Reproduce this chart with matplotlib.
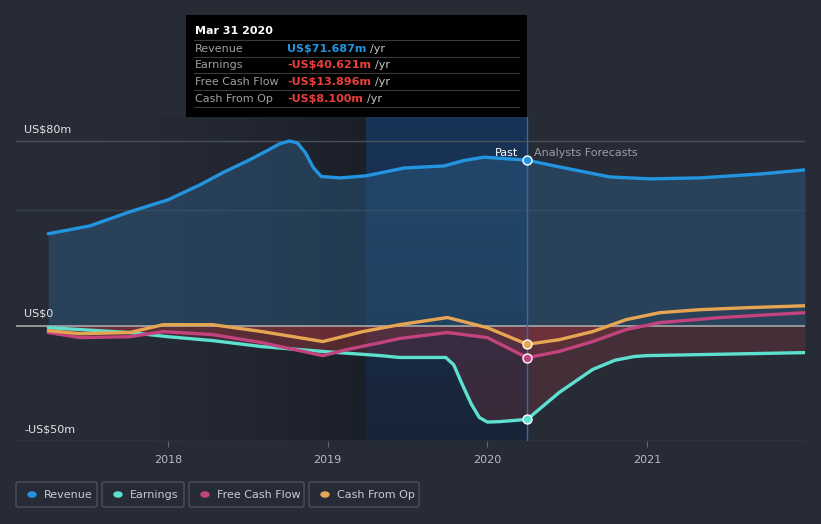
import numpy as np
import matplotlib.pyplot as plt
from matplotlib.colors import LinearSegmentedColormap
from matplotlib.patches import Rectangle, FancyBboxPatch

# data (US$ m)
rev_t = [2017.25, 2017.51, 2017.76, 2018.0, 2018.2, 2018.35, 2018.51, 2018.62, 2018.7,
         2018.76, 2018.81, 2018.86, 2018.91, 2018.96, 2019.08, 2019.24, 2019.48, 2019.73,
         2019.85, 2019.98, 2020.25, 2020.45, 2020.77, 2021.02, 2021.33, 2021.71, 2021.99]
rev_v = [39.8, 43.2, 49.3, 54.5, 61.0, 66.5, 71.8, 75.8, 78.8,
         80.0, 79.2, 75.0, 68.5, 64.6, 64.0, 64.9, 68.3, 69.2,
         71.5, 73.0, 71.687, 68.8, 64.4, 63.6, 64.0, 65.7, 67.5]

earn_t = [2017.25, 2017.76, 2018.0, 2018.28, 2018.59, 2018.97, 2019.33, 2019.45, 2019.74,
          2019.79, 2019.84, 2019.9, 2019.95, 2020.0, 2020.08, 2020.25, 2020.45, 2020.66,
          2020.8, 2020.92, 2021.0, 2021.46, 2021.99]
earn_v = [-0.9, -3.0, -4.8, -6.5, -9.1, -11.2, -13.0, -13.8, -13.8,
          -17.0, -25.0, -34.0, -39.8, -41.8, -41.6, -40.621, -29.0, -19.0,
          -15.0, -13.4, -13.0, -12.4, -11.7]

fcf_t = [2017.25, 2017.45, 2017.76, 2017.97, 2018.28, 2018.59, 2018.97, 2019.12, 2019.33,
         2019.45, 2019.75, 2020.0, 2020.25, 2020.45, 2020.66, 2020.87, 2021.08, 2021.46, 2021.99]
fcf_v = [-3.0, -5.2, -4.8, -2.6, -3.9, -7.4, -13.0, -10.4, -7.4,
         -5.6, -3.0, -5.2, -13.896, -11.2, -6.9, -1.7, 1.3, 3.5, 5.6]

cfo_t = [2017.25, 2017.45, 2017.76, 2017.97, 2018.28, 2018.59, 2018.97, 2019.22, 2019.45,
         2019.75, 2020.0, 2020.25, 2020.45, 2020.66, 2020.87, 2021.08, 2021.33, 2021.64, 2021.99]
cfo_v = [-2.2, -3.5, -3.0, 0.4, 0.4, -2.6, -6.9, -2.6, 0.4,
         3.5, -0.9, -8.1, -6.1, -2.6, 2.6, 5.6, 6.9, 7.8, 8.6]

names = ["Revenue", "Earnings", "Free Cash Flow", "Cash From Op"]
colors = ["#2394df", "#5de0cf", "#c2437e", "#e6a553"]
tip_vals = ["US$71.687m", "-US$40.621m", "-US$13.896m", "-US$8.100m"]
year_ticks = [2018, 2019, 2020, 2021]
now = 2020.25

bg = "#262b36"
fig = plt.figure(figsize=(8.21, 5.24), dpi=100, facecolor=bg)
W, H = 821, 524
ax = fig.add_axes([16 / W, (H - 441) / H, (805 - 16) / W, (441 - 117) / H])
ax.set_facecolor(bg)
ax.set_xlim(2017.048, 2021.99)
ax.set_ylim(-50, 90.4)

# past background: darkening gradient, then highlighted last year
grad = np.linspace(0, 1, 200).reshape(1, -1) ** 1.5
ax.imshow(grad, extent=[2017.6, 2019.24, -50, 90.4], aspect="auto",
          cmap=LinearSegmentedColormap.from_list("g", [bg, "#1a1f28"]), zorder=0)
vgrad = np.linspace(0, 1, 100).reshape(-1, 1)
ax.imshow(vgrad, extent=[2019.24, now, -50, 90.4], aspect="auto", origin="lower",
          cmap=LinearSegmentedColormap.from_list("b", ["#182538", "#183458"]), zorder=0.5)

# grid
for g, c in [(80, "#4a505b"), (50, "#3a404b"), (-50, "#4a505b")]:
    ax.axhline(g, color=c, lw=1, zorder=1)

# fills
ax.fill_between(rev_t, 0, rev_v, color="#2e5f86", alpha=0.45, lw=0, zorder=1.5)
for t, v in [(earn_t, earn_v), (fcf_t, fcf_v), (cfo_t, cfo_v)]:
    v = np.array(v)
    ax.fill_between(t, 0, np.minimum(v, 0), color="#b03a3e", alpha=0.22, lw=0, zorder=1.6)

ax.axhline(0, color="#a8a8a8", lw=1.2, zorder=1.8)

series = [(rev_t, rev_v), (earn_t, earn_v), (fcf_t, fcf_v), (cfo_t, cfo_v)]
for (t, v), c in zip(series, colors):
    ax.plot(t, v, color=c, lw=2.4, solid_joinstyle="round", solid_capstyle="round", zorder=3)
    i = t.index(now)
    ax.scatter([now], [v[i]], s=42, color=c, edgecolor="white", linewidth=1.0, zorder=4)

ax.axvline(now, color="#2a6cb8", lw=1, zorder=2)

for s in ax.spines.values():
    s.set_visible(False)
ax.set_yticks([])
ax.set_xticks(year_ticks)
ax.set_xticklabels([str(y) for y in year_ticks])
ax.tick_params(axis="x", colors="#60656e", labelcolor="#b8bcc2", labelsize=8, length=4, pad=6)

# y labels
fig.text(24 / W, 1 - 129 / H, "US$80m", color="#e6e6e6", fontsize=8, va="center")
fig.text(24 / W, 1 - 313 / H, "US$0", color="#e6e6e6", fontsize=8, va="center")
fig.text(24 / W, 1 - 429 / H, "-US$50m", color="#e6e6e6", fontsize=8, va="center")

fig.text(518 / W, 1 - 153 / H, "Past", color="#ffffff", fontsize=8, ha="right", va="center")
fig.text(534 / W, 1 - 153 / H, "Analysts Forecasts", color="#9a9ea6", fontsize=8, va="center")

# tooltip
fig.patches.append(Rectangle((186 / W, 1 - 117 / H), (527 - 186) / W, 102 / H,
                             transform=fig.transFigure, facecolor="#000000", edgecolor="none", zorder=5))
fig.text(195 / W, 1 - 31 / H, "Mar 31 2020", color="white", fontsize=8, fontweight="bold",
         va="center", zorder=6)
for k in range(4):
    yl = 40 + k * 16.7
    fig.lines.append(plt.Line2D([194 / W, 519 / W], [1 - yl / H, 1 - yl / H],
                                transform=fig.transFigure, color="#3a3a3a", lw=0.8, zorder=6))
    yt = 1 - (yl + 8.5) / H
    fig.text(195 / W, yt, names[k], color="#a0a0a0", fontsize=8, va="center", zorder=6)
    vc = "#2394df" if k == 0 else "#e8403c"
    tx = fig.text(287 / W, yt, tip_vals[k], color=vc, fontsize=8, fontweight="bold",
                  va="center", zorder=6)
    fig.canvas.draw()
    bb = tx.get_window_extent()
    fig.text((bb.x1 + 4) / W, yt, "/yr", color="#c8c8c8", fontsize=8, va="center", zorder=6)
yl = 40 + 4 * 16.7
fig.lines.append(plt.Line2D([194 / W, 519 / W], [1 - yl / H, 1 - yl / H],
                            transform=fig.transFigure, color="#3a3a3a", lw=0.8, zorder=6))

# legend boxes
boxes = [(16, 97), (102, 184), (189, 304), (309, 419)]
for (bx0, bx1), nm, c in zip(boxes, names, colors):
    fig.patches.append(FancyBboxPatch((bx0 / W, 1 - 507 / H), (bx1 - bx0) / W, 25 / H,
                                      boxstyle="round,pad=0,rounding_size=0.003",
                                      transform=fig.transFigure, facecolor="none",
                                      edgecolor="#4a505b", lw=1))
    fig.patches.append(plt.Circle(((bx0 + 16) / W, 1 - 494.5 / H), 4 / W,
                                  transform=fig.transFigure, color=c))
    fig.text((bx0 + 28) / W, 1 - 494.5 / H, nm, color="#c8ccd2", fontsize=8, va="center")

fig.savefig("out.png", dpi=100, facecolor=bg)
